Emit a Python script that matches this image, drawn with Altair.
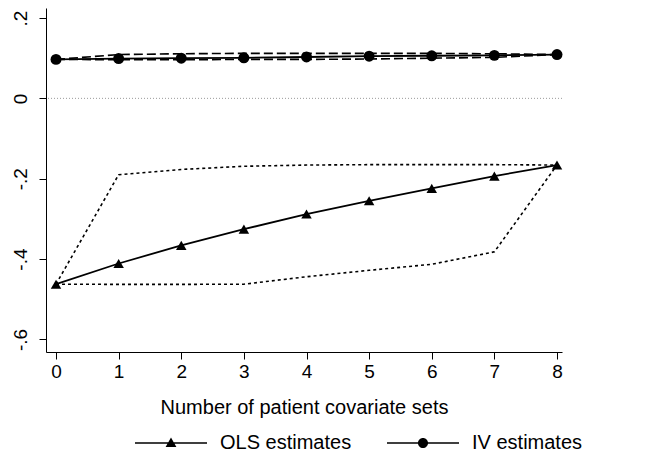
import altair as alt
import pandas as pd

# ---- data ----
sets = [0, 1, 2, 3, 4, 5, 6, 7, 8]
ols_est = [-0.4625, -0.411, -0.366, -0.3255, -0.288, -0.255, -0.224, -0.1935, -0.166]
ols_hi = [-0.4625, -0.190, -0.177, -0.169, -0.166, -0.165, -0.165, -0.165, -0.166]
ols_lo = [-0.4625, -0.463, -0.463, -0.4625, -0.444, -0.428, -0.413, -0.382, -0.166]
iv_est = [0.097, 0.099, 0.100, 0.101, 0.103, 0.105, 0.106, 0.107, 0.109]
iv_hi = [0.097, 0.109, 0.111, 0.112, 0.112, 0.112, 0.112, 0.111, 0.109]
iv_lo = [0.097, 0.096, 0.096, 0.097, 0.097, 0.098, 0.100, 0.102, 0.109]
y_ticks = [-0.6, -0.4, -0.2, 0, 0.2]
legend_labels = ["OLS estimates", "IV estimates"]

rows = []
for name, vals in [("ols_est", ols_est), ("ols_hi", ols_hi), ("ols_lo", ols_lo),
                   ("iv_est", iv_est), ("iv_hi", iv_hi), ("iv_lo", iv_lo)]:
    for x, v in zip(sets, vals):
        rows.append({"x": x, "y": v, "line": name})
df = pd.DataFrame(rows)
leg_df = pd.DataFrame({"series": legend_labels, "x": [0, 0], "y": [0, 0]})

FONT = "Liberation Sans"
xs = alt.Scale(domain=[-0.16, 8.08], nice=False, zero=False)
ys = alt.Scale(domain=[-0.6313, 0.2249], nice=False, zero=False)

X = alt.X("x:Q", scale=xs, title="Number of patient covariate sets",
          axis=alt.Axis(values=sets, format="d", grid=False, tickSize=7,
                        labelPadding=3, titlePadding=16))
Y = alt.Y("y:Q", scale=ys, title=None,
          axis=alt.Axis(values=y_ticks, grid=False, tickSize=7, labelAngle=270,
                        labelAlign="center", labelBaseline="bottom", labelPadding=9,
                        labelExpr="datum.value == 0 ? '0' : (datum.value < 0 ? '-' : '') + '.' + toString(round(abs(datum.value) * 10))"))

base = alt.Chart(df)

zero = alt.Chart(pd.DataFrame({"y": [0]})).mark_rule(
    color="#9a9a9a", strokeDash=[1, 2], strokeWidth=1
).encode(y=alt.Y("y:Q", scale=ys))

solid = base.transform_filter(
    alt.FieldOneOfPredicate(field="line", oneOf=["ols_est", "iv_est"])
).mark_line(color="black", strokeWidth=1.8).encode(x=X, y=Y, detail="line:N")

dotted = base.transform_filter(
    alt.FieldOneOfPredicate(field="line", oneOf=["ols_hi", "ols_lo"])
).mark_line(color="black", strokeWidth=1.6, strokeDash=[3, 3]).encode(x=X, y=Y, detail="line:N")

dashed = base.transform_filter(
    alt.FieldOneOfPredicate(field="line", oneOf=["iv_hi", "iv_lo"])
).mark_line(color="black", strokeWidth=1.6, strokeDash=[9, 4]).encode(x=X, y=Y, detail="line:N")

tri = base.transform_filter(alt.datum.line == "ols_est").mark_point(
    shape="triangle-up", filled=True, color="black", size=110, opacity=1
).encode(x=X, y=Y)

circ = base.transform_filter(alt.datum.line == "iv_est").mark_point(
    shape="circle", filled=True, color="black", size=120, opacity=1
).encode(x=X, y=Y)

bar = "M-1,-0.021L1,-0.021L1,0.021L-1,0.021Z"
tri_path = bar + "M0,-0.15L0.15,0.11L-0.15,0.11Z"
circ_path = bar + "M-0.14,0A0.14,0.14,0,1,1,0.14,0A0.14,0.14,0,1,1,-0.14,0Z"

legend_layer = alt.Chart(leg_df).transform_filter("false").mark_point(
    filled=True, color="black", opacity=1
).encode(
    x=alt.X("x:Q", scale=xs),
    y=alt.Y("y:Q", scale=ys),
    shape=alt.Shape("series:N",
                    scale=alt.Scale(domain=legend_labels, range=[tri_path, circ_path]),
                    legend=alt.Legend(title=None, orient="none", direction="horizontal",
                                      legendX=89, legendY=399,
                                      symbolSize=5184, symbolFillColor="black",
                                      symbolStrokeWidth=0,
                                      symbolOpacity=1,
                                      labelFont=FONT, labelFontSize=20, labelColor="black",
                                      labelOffset=13, columnPadding=35, padding=0,
                                      labelLimit=400)),
)

chart = alt.layer(zero, dotted, dashed, solid, tri, circ, legend_layer).properties(
    width=516, height=344,
    autosize=alt.AutoSizeParams(type="none"),
    padding={"left": 38, "top": 0, "right": 60, "bottom": 104},
    background="white",
).configure_view(stroke=None).configure_axis(
    domainColor="black", tickColor="black", labelColor="black", titleColor="black",
    labelFont=FONT, titleFont=FONT, labelFontSize=19, titleFontSize=20,
    titleFontWeight="normal", domainWidth=1, tickWidth=1,
)

chart.save("out.html", embed_options={"renderer": "svg", "actions": False})
